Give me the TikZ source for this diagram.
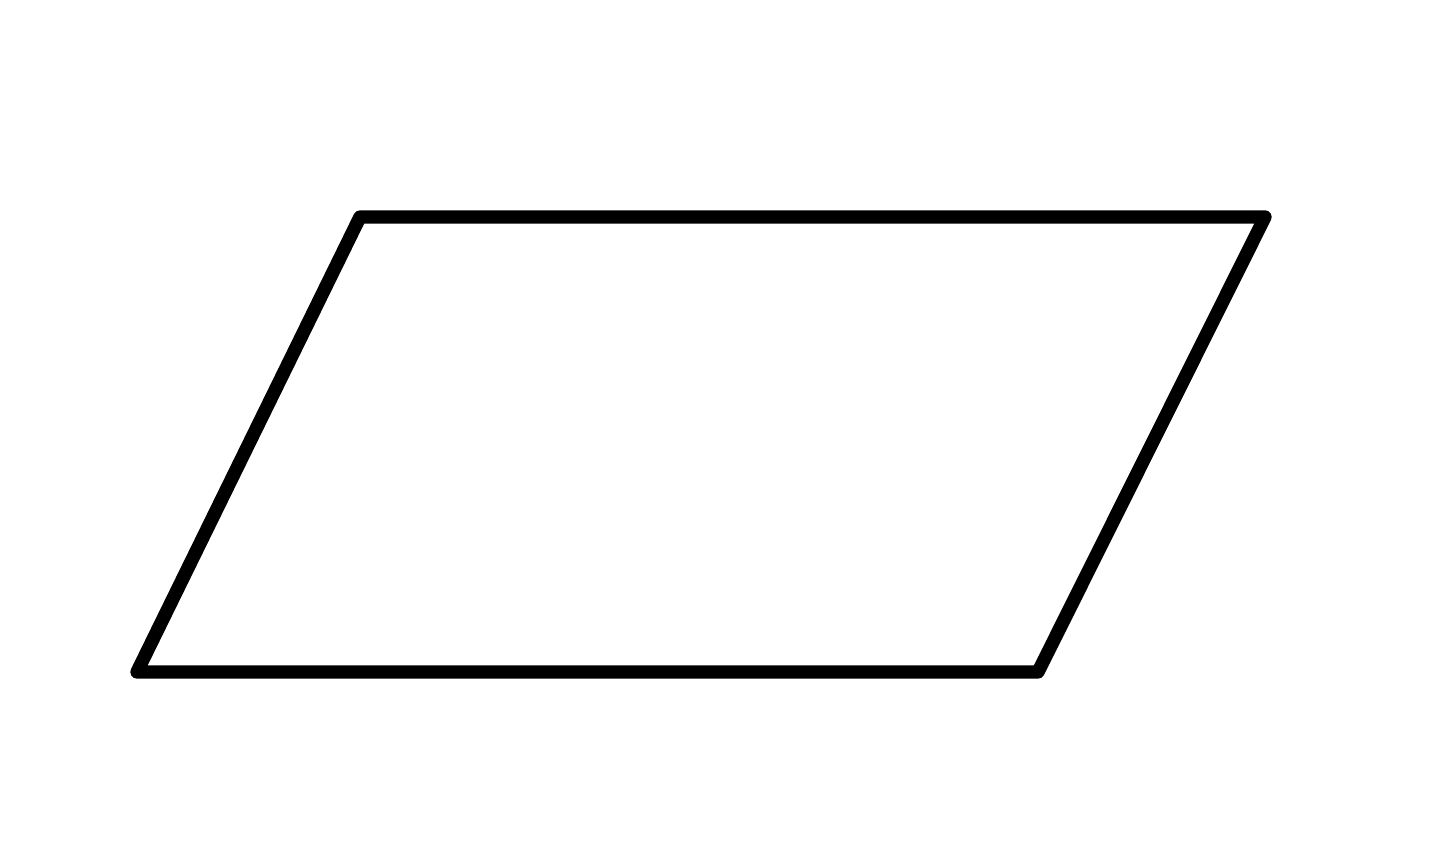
\documentclass[tikz,border=0pt]{standalone}
\usepackage{tikz}
\usetikzlibrary{calc}

\begin{document}
\begin{tikzpicture}[scale=0.5]
\useasboundingbox (0,0) rectangle (28.8,16.98);
\coordinate (tl) at (7.2,12.64);
\coordinate (tr) at (25.3,12.64);
\coordinate (br) at (20.76,3.54);
\coordinate (bl) at (2.74,3.54);
\draw[line width=3.8pt, line join=round] (tl) -- (tr) -- (br) -- (bl) -- cycle;
\end{tikzpicture}
\end{document}
